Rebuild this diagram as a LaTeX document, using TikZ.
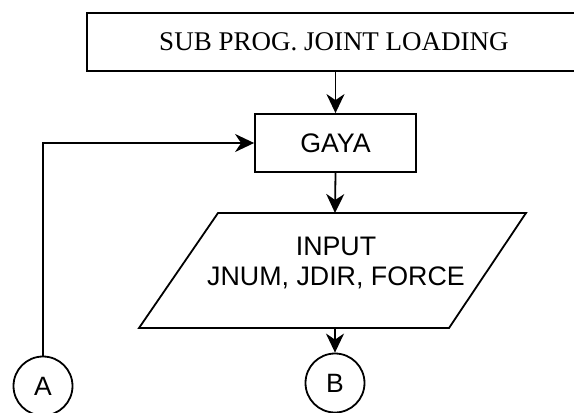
\documentclass[tikz,border=0pt]{standalone}
\usepackage{fontspec}
\setmainfont{Liberation Serif}
\newfontfamily\flowsans{Liberation Sans}
\usetikzlibrary{arrows.meta}
\begin{document}
\begin{tikzpicture}[x=1pt,y=-1pt,
  line/.style={line width=1.8pt, black},
  arr/.style={line, -{Stealth[length=19pt,width=18pt,inset=6pt]}},
  procbox/.style={draw, line width=1.8pt, rectangle, inner sep=0pt},
  conn/.style={draw, line width=1.8pt, circle, inner sep=0pt, minimum size=59pt,
    font=\flowsans\fontsize{26.5}{30}\selectfont},
  sanstext/.style={font=\flowsans\fontsize{26.8}{30}\selectfont, align=center, inner sep=0pt},
  serifhead/.style={font=\fontsize{27}{32}\selectfont}]
  \clip (0,0) rectangle (574,413);
  \fill[white] (0,0) rectangle (574,413);

  % subprogram header (runs off the right edge)
  \node[procbox, serifhead, minimum width=494pt, minimum height=58pt] (sub) at (334,42)
    {SUB PROG. JOINT LOADING};

  % process box
  \node[procbox, sanstext, minimum width=161pt, minimum height=58pt] (gaya) at (335.5,143) {GAYA};

  % input parallelogram
  \coordinate (pTL) at (218,213);
  \coordinate (pTR) at (526,213);
  \coordinate (pBR) at (449,328);
  \coordinate (pBL) at (139,328);
  \coordinate (pTop) at (335,213);
  \coordinate (pBot) at (335,328);
  \draw[line, line join=miter] (pTL) -- (pTR) -- (pBR) -- (pBL) -- cycle;
  \node[sanstext] (inp) at (336,262.5) {INPUT\\JNUM, JDIR, FORCE};

  % connectors
  \node[conn] (a) at (43,386) {A};
  \node[conn] (b) at (335,383) {B};

  \draw[arr] (sub.south -| gaya.north) -- (gaya.north);
  \draw[arr] (gaya.south) -- (pTop);
  \draw[arr] (pBot) -- (b.north);
  \draw[arr] (a.north) |- (gaya.west);
\end{tikzpicture}
\end{document}
